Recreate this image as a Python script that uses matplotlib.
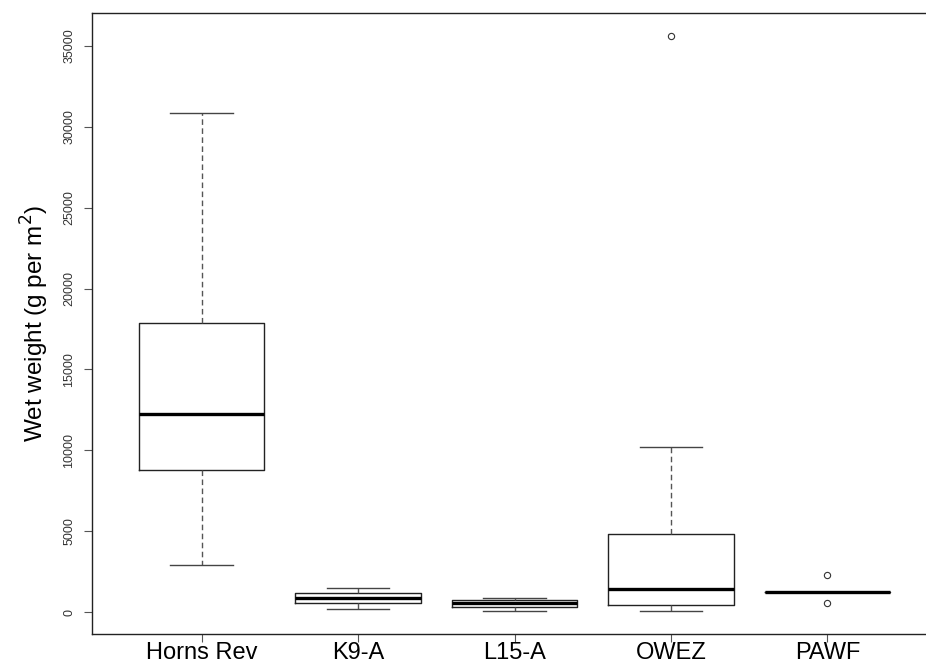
import matplotlib
matplotlib.use("Agg")
import matplotlib.pyplot as plt

plt.rcParams['font.family'] = ['Liberation Sans', 'DejaVu Sans']

sites = ["Horns Rev", "K9-A", "L15-A", "OWEZ", "PAWF"]
whisker_low = [2920, 200, 80, 100, 1250]
q1 = [8790, 575, 330, 450, 1250]
median = [12250, 880, 575, 1440, 1250]
q3 = [17890, 1190, 760, 4840, 1250]
whisker_high = [30840, 1500, 880, 10210, 1250]
outliers = [[], [], [], [35600], [2300, 575]]

yticks = [0, 5000, 10000, 15000, 20000, 25000, 30000, 35000]

stats = []
for i, s in enumerate(sites):
    stats.append(dict(label=s, whislo=whisker_low[i], q1=q1[i], med=median[i],
                      q3=q3[i], whishi=whisker_high[i], fliers=outliers[i]))

W, H = 926, 663
fig = plt.figure(figsize=(W / 100, H / 100), dpi=100)
ax = fig.add_axes([92 / W, (H - 634) / H, (937 - 92) / W, (634 - 13) / H])

ax.bxp(stats, positions=range(1, len(sites) + 1), widths=0.8,
       boxprops=dict(color='#222222', linewidth=1.0),
       medianprops=dict(color='black', linewidth=2.4, solid_capstyle='butt'),
       whiskerprops=dict(color='#555555', linewidth=1.0, linestyle=(0, (4, 2.5))),
       capprops=dict(color='#444444', linewidth=1.0),
       flierprops=dict(marker='o', markerfacecolor='none', markeredgecolor='#333333',
                       markersize=4.5, markeredgewidth=0.8, linestyle='none'),
       capwidths=0.4, showfliers=True)

ax.set_xlim(0.3, 5.7)
ax.set_ylim(-1340, 37020)
ax.set_yticks(yticks)
ax.set_yticklabels([str(v) for v in yticks], rotation=90, va='center',
                   fontsize=9, color='#333333')
ax.set_xticks(range(1, len(sites) + 1))
ax.set_xticklabels(sites, fontsize=17, color='black')
ax.tick_params(axis='y', length=6, width=0.8, color='#555555', pad=6)
ax.tick_params(axis='x', length=6, width=0.8, color='#555555', pad=0)
for sp in ax.spines.values():
    sp.set_linewidth(1.0)
    sp.set_color('#222222')

ax.set_ylabel(r"Wet weight (g per m$^{2}$)", fontsize=17.5, labelpad=9)

fig.savefig("out.png", dpi=100)
